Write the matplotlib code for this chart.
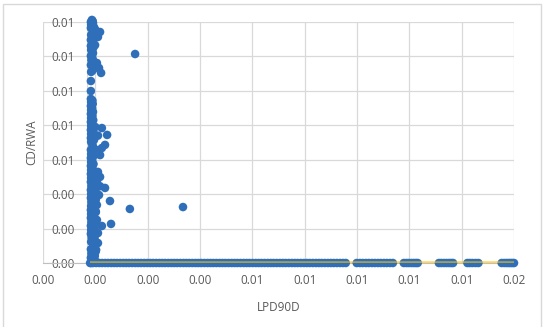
import matplotlib
matplotlib.use('Agg')
import matplotlib.pyplot as plt
from matplotlib.patches import Rectangle

# axis setup
x_min = -0.0017
x_step = 0.002
x_labels = ['0.00', '0.00', '0.00', '0.00', '0.01', '0.01', '0.01', '0.01', '0.01', '0.02']
y_ticks = [0.0, 0.002, 0.004, 0.006, 0.008, 0.010, 0.012, 0.014]
y_labels = ['0.00', '0.00', '0.00', '0.01', '0.01', '0.01', '0.01', '0.01']

# dense column of points near LPD90D = 0
column_pts = [
    (0.00014, 0.00000), (0.00031, 0.00010), (0.00013, 0.00030), (0.00028, 0.00041), (0.00015, 0.00055),
    (0.00033, 0.00076), (0.00013, 0.00080), (0.00024, 0.00101), (0.00014, 0.00123), (0.00030, 0.00128),
    (0.00016, 0.00147), (0.00040, 0.00116), (0.00013, 0.00169), (0.00029, 0.00160), (0.00040, 0.00174),
    (0.00014, 0.00192), (0.00027, 0.00199), (0.00013, 0.00216), (0.00036, 0.00250), (0.00015, 0.00238),
    (0.00028, 0.00228), (0.00013, 0.00262), (0.00025, 0.00271), (0.00014, 0.00285), (0.00032, 0.00296),
    (0.00013, 0.00308), (0.00026, 0.00318), (0.00036, 0.00337), (0.00014, 0.00331), (0.00015, 0.00354),
    (0.00029, 0.00362), (0.00013, 0.00378), (0.00044, 0.00395), (0.00026, 0.00386), (0.00014, 0.00401),
    (0.00030, 0.00412), (0.00013, 0.00424), (0.00067, 0.00436), (0.00048, 0.00446), (0.00015, 0.00447),
    (0.00031, 0.00458), (0.00013, 0.00471), (0.00036, 0.00471),
    (0.00022, 0.00020), (0.00031, 0.00065), (0.00021, 0.00090), (0.00032, 0.00112), (0.00022, 0.00138),
    (0.00031, 0.00180), (0.00022, 0.00205), (0.00030, 0.00245), (0.00021, 0.00275), (0.00031, 0.00300),
    (0.00022, 0.00345), (0.00032, 0.00370), (0.00021, 0.00405), (0.00031, 0.00430), (0.00022, 0.00465),
    (0.00014, 0.00494), (0.00048, 0.00500), (0.00022, 0.00506), (0.00013, 0.00517), (0.00040, 0.00529),
    (0.00021, 0.00535), (0.00014, 0.00540), (0.00013, 0.00564), (0.00023, 0.00575), (0.00014, 0.00587),
    (0.00013, 0.00610), (0.00022, 0.00620), (0.00048, 0.00627), (0.00014, 0.00633), (0.00013, 0.00657),
    (0.00055, 0.00668), (0.00067, 0.00686), (0.00030, 0.00660), (0.00020, 0.00680), (0.00014, 0.00703),
    (0.00025, 0.00715), (0.00013, 0.00726), (0.00075, 0.00744), (0.00040, 0.00740), (0.00014, 0.00750),
    (0.00022, 0.00762), (0.00013, 0.00773), (0.00055, 0.00784), (0.00030, 0.00790), (0.00014, 0.00796),
    (0.00013, 0.00819), (0.00022, 0.00830), (0.00014, 0.00842), (0.00013, 0.00866), (0.00021, 0.00878),
    (0.00014, 0.00889), (0.00013, 0.00912), (0.00020, 0.00924), (0.00014, 0.00935), (0.00013, 0.00953),
    (0.00019, 0.00485), (0.00018, 0.00525), (0.00019, 0.00552), (0.00018, 0.00598), (0.00019, 0.00645),
    (0.00018, 0.00692), (0.00019, 0.00735), (0.00018, 0.00808), (0.00019, 0.00855), (0.00018, 0.00900),
    (0.00019, 0.00944),
    (0.00013, 0.00999), (0.00013, 0.01057),
    (0.00052, 0.01104), (0.00014, 0.01110), (0.00044, 0.01133), (0.00022, 0.01125), (0.00036, 0.01162),
    (0.00013, 0.01150), (0.00015, 0.01179), (0.00013, 0.01203), (0.00021, 0.01220), (0.00014, 0.01238),
    (0.00029, 0.01266), (0.00013, 0.01261), (0.00018, 0.01278), (0.00013, 0.01296), (0.00025, 0.01305),
    (0.00040, 0.01313), (0.00048, 0.01342), (0.00014, 0.01325), (0.00021, 0.01342), (0.00013, 0.01365),
    (0.00025, 0.01370), (0.00014, 0.01383), (0.00021, 0.01395), (0.00013, 0.01400), (0.00017, 0.01412),
    (0.00019, 0.01118), (0.00020, 0.01140), (0.00024, 0.01170), (0.00019, 0.01190), (0.00018, 0.01212),
    (0.00022, 0.01250), (0.00021, 0.01288), (0.00030, 0.01318), (0.00032, 0.01333), (0.00030, 0.01355),
    (0.00020, 0.01405),
]

# scattered points away from the column
outlier_pts = [
    (0.00182, 0.01214), (0.00086, 0.00360), (0.00162, 0.00314),
    (0.00365, 0.00325), (0.00055, 0.00215), (0.00090, 0.00227),
]

# points sitting on CD/RWA = 0
base_x = [
    0.00010, 0.00021, 0.00033, 0.00045, 0.00056, 0.00068, 0.00079, 0.00091, 0.00102, 0.00113,
    0.00125, 0.00137, 0.00148, 0.00159, 0.00171, 0.00183, 0.00194, 0.00205, 0.00217, 0.00229,
    0.00240, 0.00251, 0.00263, 0.00275, 0.00286, 0.00297, 0.00309, 0.00321, 0.00332, 0.00343,
    0.00355, 0.00367, 0.00378, 0.00389, 0.00401, 0.00413, 0.00424, 0.00435, 0.00447, 0.00459,
    0.00470, 0.00481, 0.00493, 0.00505, 0.00516, 0.00527, 0.00539, 0.00551, 0.00562, 0.00573,
    0.00585, 0.00597, 0.00608, 0.00619, 0.00631, 0.00643, 0.00654, 0.00665, 0.00677, 0.00689,
    0.00700, 0.00711, 0.00723, 0.00735, 0.00746, 0.00757, 0.00769, 0.00781, 0.00792, 0.00803,
    0.00815, 0.00827, 0.00838, 0.00849, 0.00861, 0.00873, 0.00884, 0.00895, 0.00907, 0.00919,
    0.00930, 0.00941, 0.00953, 0.00965, 0.00976, 0.00987,
    0.01029, 0.01041, 0.01052, 0.01064, 0.01075, 0.01087, 0.01098, 0.01110, 0.01121, 0.01133,
    0.01144, 0.01156, 0.01167,
    0.01209, 0.01219, 0.01228, 0.01238, 0.01247, 0.01255, 0.01262,
    0.01343, 0.01352, 0.01362, 0.01372, 0.01382, 0.01390, 0.01397,
    0.01452, 0.01461, 0.01471, 0.01483, 0.01494,
    0.01583, 0.01593, 0.01602, 0.01610, 0.01617, 0.01624, 0.01630,
]

# second series (orange line along zero)
line_x = [0.00010, 0.01630]
line_y = [0.0, 0.0]

blue = '#2f6fba'
grid_c = '#d9d9d9'
text_c = '#595959'
plt.rcParams['font.family'] = ['Open Sans', 'DejaVu Sans']

fig = plt.figure(figsize=(5.47, 3.27), dpi=100)
ax = fig.add_axes([43 / 547, 1 - 263 / 327, 471 / 547, 241 / 327])

x_ticks = [x_min + k * x_step for k in range(len(x_labels))]
ax.set_xlim(x_ticks[0], x_ticks[-1])
ax.set_ylim(y_ticks[0], y_ticks[-1])
ax.set_xticks(x_ticks)
ax.set_xticklabels(x_labels)
ax.set_yticks(y_ticks)
ax.set_yticklabels(y_labels)

for xv in x_ticks:
    ax.axvline(xv, color=grid_c, lw=0.9, zorder=0)
for yv in y_ticks:
    ax.axhline(yv, color=grid_c, lw=0.9, zorder=0)

for s in ['top', 'right']:
    ax.spines[s].set_visible(False)
ax.spines['left'].set_position(('data', 0))
ax.spines['left'].set_color(grid_c)
ax.spines['bottom'].set_color('#bfbfbf')

ax.tick_params(axis='both', length=0, labelsize=8.5, labelcolor=text_c)
ax.tick_params(axis='x', pad=8)
ax.tick_params(axis='y', pad=9)

cx = [p[0] for p in column_pts] + [p[0] for p in outlier_pts] + base_x
cy = [p[1] for p in column_pts] + [p[1] for p in outlier_pts] + [0.0] * len(base_x)
ax.scatter(cx, cy, s=38, color=blue, edgecolors='none', zorder=3, clip_on=False)
ax.plot(line_x, line_y, color='#ffc000', lw=2.6, alpha=0.6, zorder=4, solid_capstyle='butt')

ax.set_xlabel('LPD90D', fontsize=8.5, color=text_c, labelpad=10)
fig.text(32 / 547, 1 - 142 / 327, 'CD/RWA', rotation=90, fontsize=8.5, color=text_c,
         ha='center', va='center')

fig.add_artist(Rectangle((3 / 547, -0.05), 538 / 547, 1.05 - 4 / 327, transform=fig.transFigure,
                         fill=False, edgecolor=grid_c, lw=1))

fig.savefig('out.png', dpi=100)
